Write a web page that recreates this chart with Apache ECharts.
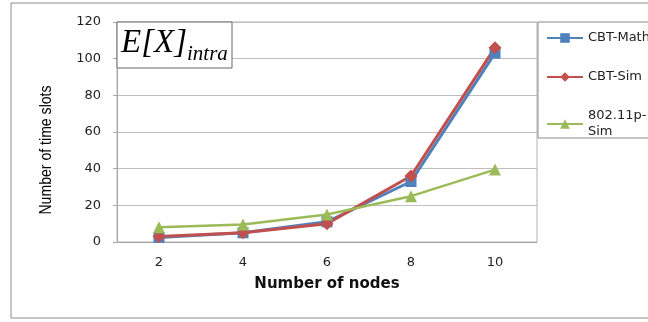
<!DOCTYPE html>
<html>
<head>
<meta charset="utf-8">
<script src="https://cdn.jsdelivr.net/npm/echarts@6/dist/echarts.min.js"></script>
<style>
  html, body { margin: 0; padding: 0; background: #fff; }
  #chart { width: 648px; height: 322px; }
</style>
</head>
<body>
<div id="chart"></div>
<script>
// 数据
var nodes = ['2', '4', '6', '8', '10'];
var cbtMath = [2.5, 5, 11, 33, 103];
var cbtSim = [3, 5, 10, 36, 106];
var p80211Sim = [8, 9.5, 15, 25, 39.5];
var yTicks = [0, 20, 40, 60, 80, 100, 120];

var myChart = echarts.init(document.getElementById('chart'));

var option = {
	backgroundColor: '#fff',
	animation: false,
	grid: {
		left: 117,
		top: 22,
		width: 420,
		height: 220,
		show: true,
		borderColor: '#b3b3b3',
		borderWidth: 1
	},
	graphic: [
		{ //外框
			type: 'rect',
			shape: { x: 11, y: 3, width: 700, height: 315 },
			style: { fill: 'none', stroke: '#8c8c8c', lineWidth: 1 },
			z: 100
		},
		{ //图例框
			type: 'rect',
			shape: { x: 538, y: 22, width: 130, height: 116 },
			style: { fill: '#fff', stroke: '#8c8c8c', lineWidth: 1 },
			z: 1
		},
		{ //纵轴标题
			type: 'text',
			x: 47, y: 150,
			rotation: Math.PI / 2,
			scaleX: 0.88,
			style: {
				text: 'Number of time slots',
				font: '16px "Liberation Sans", sans-serif',
				fill: '#000',
				align: 'center',
				verticalAlign: 'middle'
			}
		},
		{ //标题框
			type: 'rect',
			shape: { x: 117, y: 22, width: 115, height: 46 },
			style: { fill: '#fff', stroke: '#666', lineWidth: 1 },
			z: 50
		},
		{
			type: 'text',
			left: 121, top: 27,
			style: {
				text: 'E[X]',
				font: 'italic 33px "Liberation Serif", serif',
				fill: '#000'
			},
			z: 51
		},
		{
			type: 'text',
			left: 187, top: 44,
			style: {
				text: 'intra',
				font: 'italic 21px "Liberation Serif", serif',
				fill: '#000'
			},
			z: 51
		}
	],
	legend: {
		orient: 'vertical',
		left: 541,
		top: 25,
		itemWidth: 36,
		itemHeight: 12,
		itemGap: 23,
		z: 10,
		data: ['CBT-Math', 'CBT-Sim', '802.11p-Sim'],
		formatter: function (name) {
			return name == '802.11p-Sim' ? '802.11p-\nSim' : name;
		},
		textStyle: {
			fontFamily: 'DejaVu Sans',
			fontSize: 13,
			color: '#222',
			lineHeight: 16
		}
	},
	xAxis: {
		type: 'category',
		data: nodes,
		boundaryGap: true,
		name: 'Number of nodes',
		nameLocation: 'middle',
		nameGap: 35,
		nameTextStyle: {
			fontFamily: 'DejaVu Sans',
			fontWeight: 'bold',
			fontSize: 15,
			color: '#111'
		},
		axisLine: { lineStyle: { color: '#a6a6a6' } },
		axisTick: { show: false },
		axisLabel: {
			margin: 14,
			fontFamily: 'DejaVu Sans',
			fontSize: 13,
			color: '#222'
		}
	},
	yAxis: {
		type: 'value',
		min: 0,
		max: 120,
		interval: 20,
		axisLine: { show: true, lineStyle: { color: '#a6a6a6' } },
		axisTick: { show: true, inside: false, length: 4, lineStyle: { color: '#a6a6a6' } },
		splitLine: { show: true, lineStyle: { color: '#bfbfbf', width: 1 } },
		axisLabel: {
			margin: 16,
			fontFamily: 'DejaVu Sans',
			fontSize: 13,
			color: '#222',
			formatter: function (v) {
				return yTicks.indexOf(v) >= 0 ? String(v) : '';
			}
		}
	},
	series: [
		{
			name: 'CBT-Math',
			type: 'line',
			data: cbtMath,
			symbol: 'rect',
			symbolSize: 11,
			itemStyle: { color: '#4F81BD' },
			lineStyle: { color: '#4F81BD', width: 3 }
		},
		{
			name: 'CBT-Sim',
			type: 'line',
			data: cbtSim,
			symbol: 'diamond',
			symbolSize: 13,
			itemStyle: { color: '#C0504D' },
			lineStyle: { color: '#C0504D', width: 3 }
		},
		{
			name: '802.11p-Sim',
			type: 'line',
			data: p80211Sim,
			symbol: 'triangle',
			symbolSize: 12,
			itemStyle: { color: '#9BBB59' },
			lineStyle: { color: '#9BBB59', width: 2.5 }
		}
	]
};

myChart.setOption(option, true);
</script>
</body>
</html>
